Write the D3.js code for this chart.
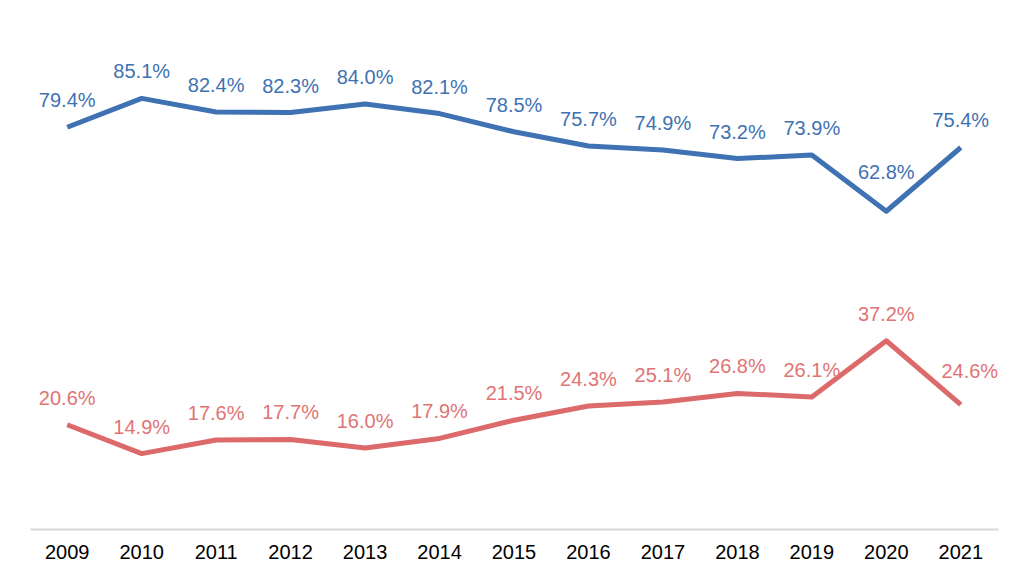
<!DOCTYPE html>
<html>
<head>
<meta charset="utf-8">
<script src="https://cdn.jsdelivr.net/npm/d3@7"></script>
<style>
  body { margin: 0; background: #fff; }
  text { font-family: "Liberation Sans", Arial, sans-serif; }
</style>
</head>
<body>
<div id="chart"></div>
<script>
var years = ["2009", "2010", "2011", "2012", "2013", "2014", "2015", "2016", "2017", "2018", "2019", "2020", "2021"];
var blueValues = [79.4, 85.1, 82.4, 82.3, 84.0, 82.1, 78.5, 75.7, 74.9, 73.2, 73.9, 62.8, 75.4];
var redValues = [20.6, 14.9, 17.6, 17.7, 16.0, 17.9, 21.5, 24.3, 25.1, 26.8, 26.1, 37.2, 24.6];

var width = 1024, height = 584;

var svg = d3.select("#chart").append("svg")
    .attr("width", width)
    .attr("height", height);

// scales
var x = d3.scaleBand()
    .domain(years)
    .range([30, 998])
    .padding(0);

var y = d3.scaleLinear()
    .domain([0, 100])
    .range([529, 23]);

// x axis
var xAxis = d3.axisBottom(x).tickSize(0).tickPadding(16);
var gx = svg.append("g")
    .attr("transform", "translate(0," + y(0) + ")")
    .call(xAxis);
gx.select(".domain").attr("stroke", "#d9d9d9").attr("stroke-width", 2);
gx.selectAll("text")
    .attr("font-size", "20px")
    .attr("fill", "#000")
    .attr("font-family", "Liberation Sans, Arial, sans-serif");

// a few labels sit off their usual spot so they clear the line
var series = [
    { values: blueValues, color: "#3e72b2", labelColor: "#3e72b2", nudge: { "2020": [0, -12] } },
    { values: redValues, color: "#dd6a6a", labelColor: "#e07474", nudge: { "2021": [9, -7] } }
];

var line = d3.line()
    .x(function (d, i) { return x(years[i]) + x.bandwidth() / 2; })
    .y(function (d) { return y(d); });

series.forEach(function (s) {
    svg.append("path")
        .datum(s.values)
        .attr("fill", "none")
        .attr("stroke", s.color)
        .attr("stroke-width", 5)
        .attr("stroke-linejoin", "round")
        .attr("d", line);

    svg.selectAll(null)
        .data(s.values)
        .enter().append("text")
        .attr("x", function (d, i) {
            var n = s.nudge[years[i]] || [0, 0];
            return x(years[i]) + x.bandwidth() / 2 + n[0];
        })
        .attr("y", function (d, i) {
            var n = s.nudge[years[i]] || [0, 0];
            return y(d) - 20 + n[1];
        })
        .attr("text-anchor", "middle")
        .attr("font-size", "20px")
        .attr("fill", s.labelColor)
        .text(function (d) { return d.toFixed(1) + "%"; });
});
</script>
</body>
</html>
